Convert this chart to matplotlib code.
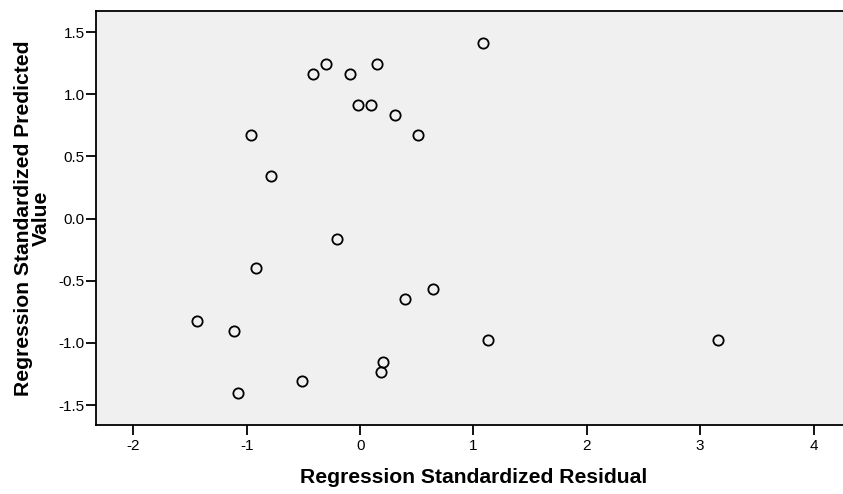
import matplotlib
matplotlib.use("Agg")
import matplotlib.pyplot as plt

# Regression standardized residual (x) vs standardized predicted value (y)
std_residual = [1.08, -0.30, 0.15, -0.42, -0.09, -0.02, 0.10, 0.31, -0.96, 0.51,
                -0.79, -0.20, -0.92, 0.64, 0.40, -1.44, -1.11, 1.13, 3.16,
                0.20, 0.185, -0.51, -1.08]
std_predicted = [1.41, 1.24, 1.24, 1.16, 1.16, 0.91, 0.91, 0.83, 0.67, 0.67,
                 0.34, -0.16, -0.40, -0.57, -0.65, -0.82, -0.90, -0.98, -0.98,
                 -1.15, -1.23, -1.31, -1.40]

x_ticks = [-2, -1, 0, 1, 2, 3, 4]
y_ticks = [-1.5, -1.0, -0.5, 0.0, 0.5, 1.0, 1.5]

plt.rcParams['font.family'] = ['Liberation Sans', 'DejaVu Sans']

fig = plt.figure(figsize=(8.43, 4.94), dpi=100)
ax = fig.add_axes([0.1139, 0.1397, 0.8861, 0.838])
ax.set_facecolor('#F0F0F0')

ax.plot(std_residual, std_predicted, 'o', ms=7.4, mfc='none', mec='black', mew=1.3)

ax.set_xlim(-2.33, 4.26)
ax.set_ylim(-1.66, 1.67)
ax.set_xticks(x_ticks)
ax.set_xticklabels([str(t) for t in x_ticks])
ax.set_yticks(y_ticks)
ax.set_yticklabels(['%.1f' % t for t in y_ticks])

for s in ['left', 'top', 'bottom']:
    ax.spines[s].set_linewidth(1.3)
ax.spines['right'].set_visible(False)
ax.tick_params(axis='both', direction='out', length=7, width=1.3, labelsize=11)
ax.tick_params(axis='y', pad=1)
ax.tick_params(axis='x', pad=3)

ax.set_xlabel('Regression Standardized Residual', fontsize=15.2, fontweight='bold')
ax.xaxis.set_label_coords(0.505, -0.104)
ax.set_ylabel('Regression Standardized Predicted\nValue', fontsize=15.2, fontweight='bold',
              linespacing=0.93)
ax.yaxis.set_label_coords(-0.060, 0.5)

fig.savefig('out.png', dpi=100)
